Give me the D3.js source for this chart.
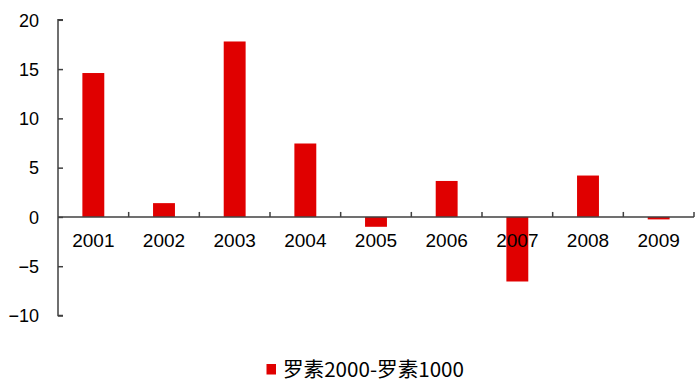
<!DOCTYPE html>
<html><head><meta charset="utf-8">
<script src="https://cdn.jsdelivr.net/npm/d3@7"></script>
<style>body{margin:0;background:#fff}</style>
</head><body>
<svg id="c" width="699" height="387"></svg>
<script>
const categories = ["2001","2002","2003","2004","2005","2006","2007","2008","2009"];
const values = [14.6, 1.4, 17.8, 7.45, -1.0, 3.65, -6.55, 4.2, -0.25];
const yTicks = [-10,-5,0,5,10,15,20];
const seriesName = "罗素2000-罗素1000";

const svg = d3.select("#c");
const font = "'Liberation Sans', Arial, sans-serif";
const x = d3.scaleBand().domain(categories).range([58, 694]).paddingInner(0.69).paddingOuter(0.345);
const y = d3.scaleLinear().domain([-10, 20]).range([315.5, 19.8]);
const axisColor = "#404040";

// bars
svg.append("g").selectAll("rect").data(values).join("rect")
  .attr("x", (d,i) => x(categories[i]))
  .attr("width", x.bandwidth())
  .attr("y", d => y(Math.max(0,d)))
  .attr("height", d => Math.abs(y(d) - y(0)))
  .attr("fill", "#e00000");

// y axis
const ya = svg.append("g").attr("transform","translate(58,0)")
  .call(d3.axisRight(y).tickValues(yTicks).tickSize(5).tickFormat(d3.format("d")));
ya.select(".domain").attr("stroke", axisColor).attr("stroke-width",1.5).attr("d", `M5,${y(20)}H0V${y(-10)}H5`);
ya.selectAll(".tick line").attr("stroke", axisColor).attr("stroke-width",1.5);
ya.selectAll(".tick text").attr("x", -19).attr("text-anchor","end").attr("dy","0.35em")
  .attr("font-family", font).attr("font-size", 18).attr("fill","#000");

// x axis (at zero)
const xa = svg.append("g").attr("transform",`translate(0,${y(0)})`);
const bounds = categories.map((c,i)=> 58 + i*(636/9)).concat([694]);
xa.append("line").attr("x1",58).attr("x2",694).attr("stroke",axisColor).attr("stroke-width",1.5);
xa.selectAll("line.t").data(bounds.slice(1)).join("line").attr("class","t")
  .attr("x1",d=>d).attr("x2",d=>d).attr("y1",0).attr("y2",-5).attr("stroke",axisColor).attr("stroke-width",1.5);
xa.selectAll("text").data(categories).join("text")
  .attr("x", d => x(d) + x.bandwidth()/2).attr("y", 30)
  .attr("text-anchor","middle").attr("font-family", font).attr("font-size", 19).attr("fill","#000").text(d=>d);

// legend
const lg = svg.append("g");
lg.append("rect").attr("x",266.5).attr("y",364).attr("width",9.5).attr("height",10.5).attr("fill","#e00000");
lg.append("text").attr("x",283).attr("y",376.5).attr("font-family","'Noto Sans CJK SC', sans-serif")
  .attr("font-size",20.6).attr("fill","#000").text(seriesName);
</script>
</body></html>
